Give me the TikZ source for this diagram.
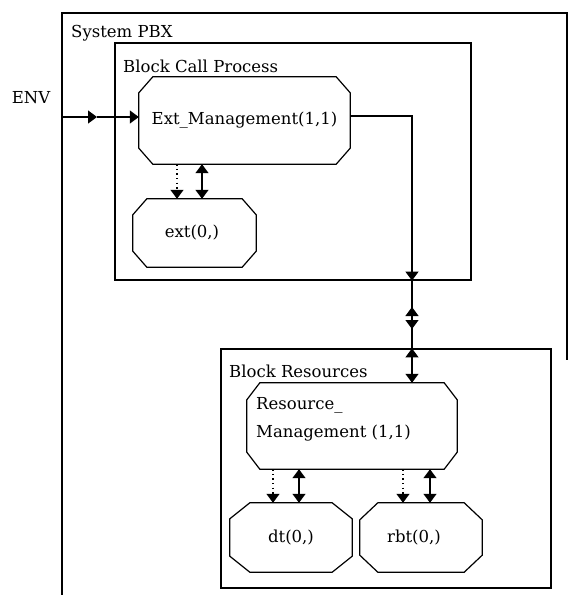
\documentclass[tikz,border=0pt]{standalone}
\usepackage{fontspec}
\setmainfont{DejaVu Serif}
\usetikzlibrary{arrows.meta,calc}
\newcommand\octagonfor[3]{%
  \draw[boxline] ($(#1.north west)+(#2,0)$) -- ($(#1.north east)+(-#2,0)$)
    -- ($(#1.north east)+(0,#3)$) -- ($(#1.south east)+(0,-#3)$)
    -- ($(#1.south east)+(-#2,0)$) -- ($(#1.south west)+(#2,0)$)
    -- ($(#1.south west)+(0,-#3)$) -- ($(#1.north west)+(0,#3)$) -- cycle;}
\tikzset{
  lbl/.style={font=\fontsize{16.5}{20}\selectfont, inner sep=0pt},
  boxline/.style={line width=1.2pt, line join=miter},
  blockbox/.style={draw, line width=1.2pt, rectangle, inner sep=0pt},
  procnode/.style={rectangle, draw=none, inner sep=0pt, font=\fontsize{16.5}{20}\selectfont},
  chan/.style={line width=1.3pt},
  dotline/.style={line width=1.3pt, dash pattern=on 1.4pt off 3.2pt},
}
\begin{document}
\begin{tikzpicture}[x=1pt,y=-1pt,>={Triangle[length=9pt,width=13pt]}]
\useasboundingbox (0,0) rectangle (569,595);
% outer system frame
\coordinate (sysBL) at (62,595);
\coordinate (sysTL) at (62,13);
\coordinate (sysTR) at (567,13);
\coordinate (sysRE) at (567,360);
\draw[boxline] (sysBL) -- (sysTL) -- (sysTR) -- (sysRE);
\node[lbl, anchor=west] (systxt) at (71,33) {System PBX};
\node[lbl] (envtxt) at (31,98) {ENV};
% blocks
\node[blockbox, minimum width=356pt, minimum height=237pt] (cbp) at (293,161.5) {};
\node[lbl, anchor=west] (cbptxt) at (123,66) {Block Call Process};
\node[blockbox, minimum width=330pt, minimum height=239pt] (br) at (386,468.5) {};
\node[lbl, anchor=west] (brtxt) at (229,371) {Block Resources};
% processes
\node[procnode, minimum width=211pt, minimum height=87pt] (em) at (244.5,120.5) {Ext\_Management(1,1)};
\octagonfor{em}{14}{16}
\node[procnode, minimum width=123pt, minimum height=68pt] (ext) at (194.5,233) {\hspace{-5pt}ext(0,)};
\octagonfor{ext}{14}{16}
\node[procnode, minimum width=210pt, minimum height=86pt] (rm) at (352,426) {};
\octagonfor{rm}{13}{17}
\node[lbl, anchor=west, align=left, font=\fontsize{16.5}{28}\selectfont] (rmtxt) at (256,419) {Resource\_\\Management (1,1)};
\node[procnode, minimum width=122pt, minimum height=69pt] (dt) at (291,537.5) {\raisebox{-4pt}{dt(0,)}};
\octagonfor{dt}{20}{16}
\node[procnode, minimum width=122pt, minimum height=69pt] (rbt) at (421,537.5) {\hspace{-14pt}rbt(0,)};
\octagonfor{rbt}{18}{17}
% ENV channel
\coordinate (envin) at (62,117);
\coordinate (envmid) at (97,117);
\draw[chan,->] (envin) -- (envmid);
\draw[chan,->] (envmid) -- (envmid -| em.west);
% em <-> ext
\coordinate (xa) at (177,0);
\coordinate (xb) at (202,0);
\draw[dotline,->] (xa |- em.south) -- (xa |- ext.north);
\draw[chan,<->] (xb |- em.south) -- (xb |- ext.north);
% channel em -> resources
\coordinate (chtop) at (412,116);
\coordinate (chm1) at (412,318);
\coordinate (chm1t) at (412,307);
\coordinate (chm2) at (412,318);
\coordinate (chm2t) at (412,329);
\draw[chan,->] (em.east |- chtop) -- (chtop) -- (chtop |- cbp.south);
\draw[chan] (chtop |- cbp.south) -- (chtop |- br.north);
\draw[chan,->] (chm1) -- (chm1t);
\draw[chan,->] (chm2) -- (chm2t);
\draw[chan,<->] (chtop |- br.north) -- (chtop |- rm.north);
% rm <-> dt, rbt
\coordinate (xc) at (273,0);
\coordinate (xd) at (299,0);
\coordinate (xe) at (403,0);
\coordinate (xf) at (430,0);
\draw[dotline,->] (xc |- rm.south) -- (xc |- dt.north);
\draw[chan,<->] (xd |- rm.south) -- (xd |- dt.north);
\draw[dotline,->] (xe |- rm.south) -- (xe |- rbt.north);
\draw[chan,<->] (xf |- rm.south) -- (xf |- rbt.north);
\end{tikzpicture}
\end{document}
